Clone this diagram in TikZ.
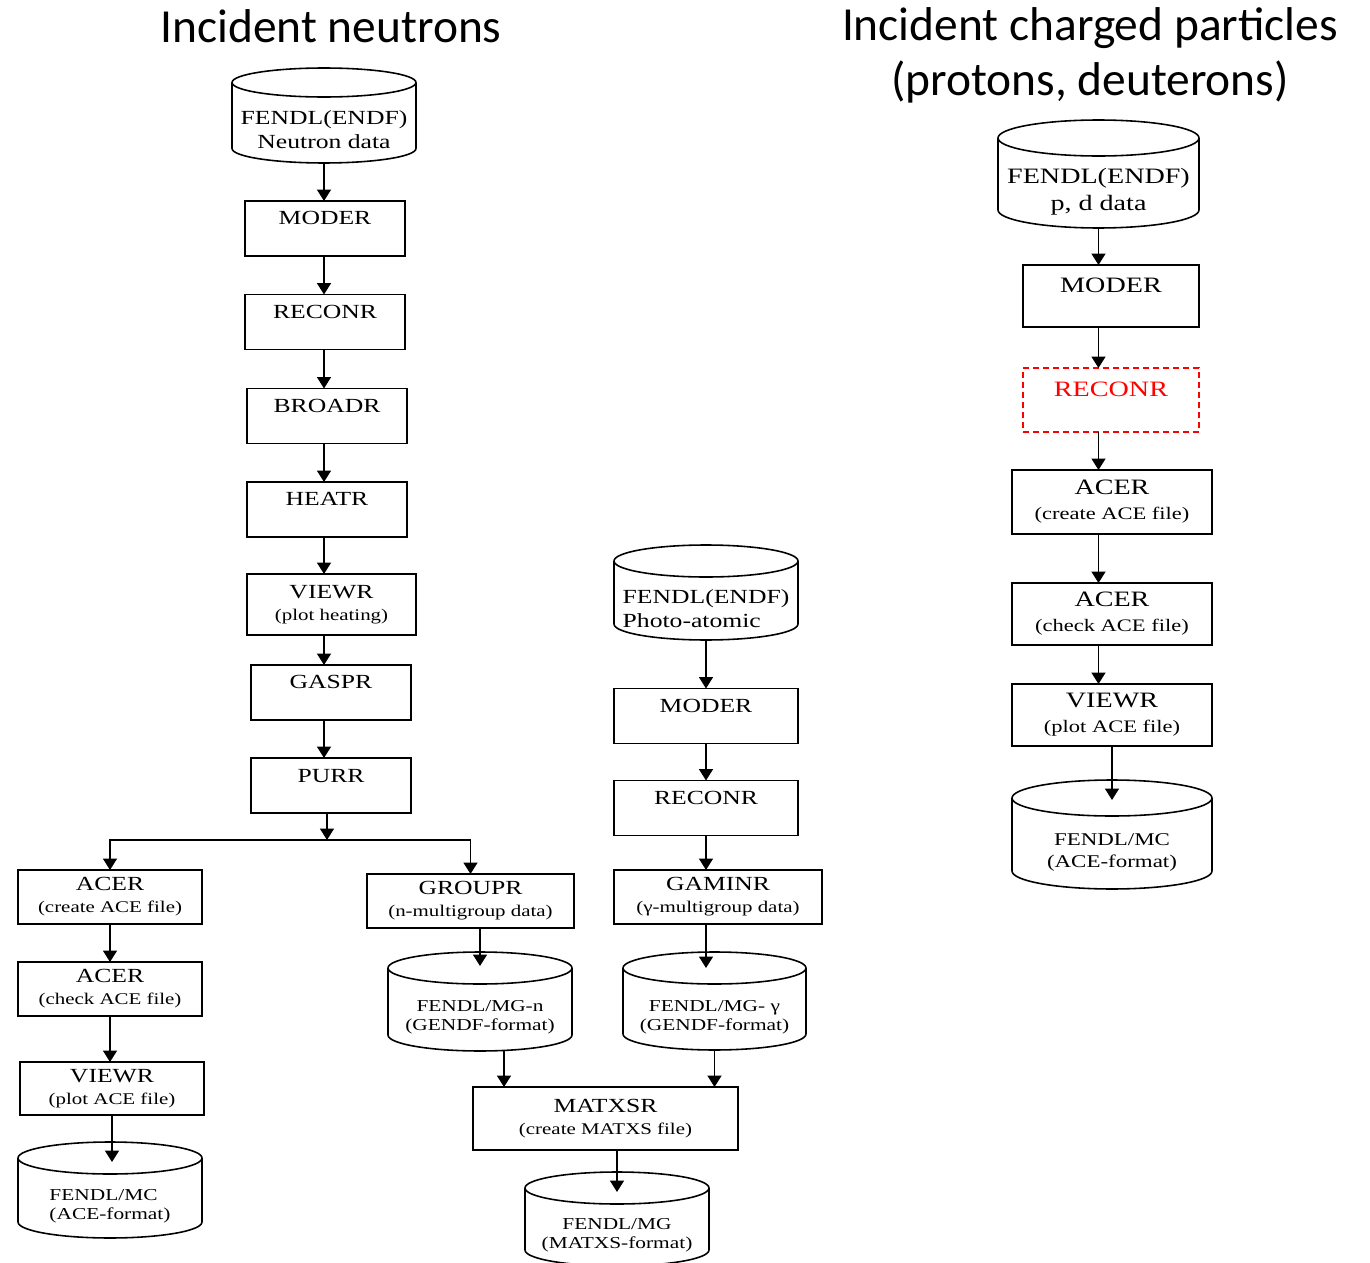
\documentclass[tikz,border=0pt]{standalone}
\usepackage{fontspec}
\setmainfont{Liberation Serif}[FakeStretch=1.28]
\newfontfamily\titlefont{Carlito}
\usepackage{tikz}
\usetikzlibrary{arrows.meta}
\usetikzlibrary{calc}

\newcommand{\titlesz}{\titlefont\fontsize{27}{31.3}\selectfont}
\newcommand{\mainsz}{\fontsize{11.4}{12.5}\selectfont}
\newcommand{\notesz}{\fontsize{9.3}{12.5}\selectfont}
\newcommand{\bigsz}{\fontsize{12.5}{14.2}\selectfont}
\newcommand{\bignotesz}{\fontsize{10}{14.2}\selectfont}
\newcommand{\drumsz}{\fontsize{11.4}{13.7}\selectfont}
\newcommand{\drumsmallsz}{\fontsize{9.5}{10.8}\selectfont}

% outline of a data drum round a named node
\newcommand{\drawdrum}[2]{%
  \draw[line width=0.9pt] let \p1=(#1.south west), \p2=(#1.south east), \n1={(\x2-\x1)/2} in
    ([yshift=#2]#1.north) ellipse [x radius=\n1*1pt, y radius=#2]
    ([yshift=#2]#1.north west) -- ([yshift=#2]#1.south west)
    arc [start angle=180, end angle=360, x radius=\n1*1pt, y radius=#2]
    -- ([yshift=#2]#1.north east);}

\tikzset{
  box/.style={draw, line width=0.9pt, inner sep=0pt, outer sep=0pt, align=center,
    font=\mainsz, minimum width=3.2cm, minimum height=1.08cm},
  onebox/.style={box, text height=0.48cm, text depth=0.62cm},
  bigbox/.style={box, font=\bigsz, minimum width=4cm, minimum height=1.24cm},
  onebig/.style={bigbox, minimum width=3.52cm, text height=0.56cm, text depth=0.68cm},
  drum/.style={inner sep=0pt, outer sep=0pt, align=center, minimum width=3.68cm},
  flow/.style={-{Triangle[length=2.3mm, width=2.8mm]}, line width=1pt},
  into/.style={shorten >=#1},
  heading/.style={font=\titlesz, align=center}
}

\begin{document}
\begin{tikzpicture}[x=0.02cm, y=-0.02cm]
\useasboundingbox (0,0) rectangle (1370,1263);

\node[heading] (ttln) at (331,26) {Incident neutrons};
\node[heading] (ttlp) at (1090,55) {Incident charged particles\\(protons, deuterons)};

% neutron chain
\node[drum, font=\drumsz, minimum height=1.32cm] (nsrc) at (324,130) {FENDL(ENDF)\\Neutron data};
\drawdrum{nsrc}{0.29cm}
\node[onebox] (nmod) at (325,228.5) {MODER};
\node[onebox] (nrec) at (325,322) {RECONR};
\node[onebox] (nbro) at (327,416) {BROADR};
\node[onebox] (nhea) at (327,509.5) {HEATR};
\node[box, minimum width=3.38cm, minimum height=1.22cm] (nvie) at (331.5,604.5) {VIEWR\\{\notesz (plot heating)}};
\node[onebox] (ngas) at (331,692.5) {GASPR};
\node[onebox] (npur) at (331,785.5) {PURR};
\coordinate (nsplit) at (327,840);

\draw[flow] (nsrc) -- (nsrc |- nmod.north);
\draw[flow] (nmod.south -| nsrc) -- (nsrc |- nrec.north);
\draw[flow] (nrec.south -| nsrc) -- (nsrc |- nbro.north);
\draw[flow] (nbro.south -| nsrc) -- (nsrc |- nhea.north);
\draw[flow] (nhea.south -| nsrc) -- (nsrc |- nvie.north);
\draw[flow] (nvie.south -| nsrc) -- (nsrc |- ngas.north);
\draw[flow] (ngas.south -| nsrc) -- (nsrc |- npur.north);
\draw[flow] (npur.south -| nsplit) -- (nsplit);

% ACE branch
\node[box, minimum width=3.68cm] (nace1) at (110,897) {ACER\\{\notesz (create ACE file)}};
\node[box, minimum width=3.68cm] (nace2) at (110,989) {ACER\\{\notesz (check ACE file)}};
\node[box, minimum width=3.68cm, minimum height=1.06cm] (nvie2) at (112,1088.5) {VIEWR\\{\notesz (plot ACE file)}};
\node[drum, align=left, font=\drumsmallsz, minimum height=1.28cm] (nmc1) at (110,1206) {FENDL/MC\\(ACE-format)};
\drawdrum{nmc1}{0.32cm}

\draw[flow] (nsplit) -| (nace1.north);
\draw[flow] (nace1) -- (nace1 |- nace2.north);
\draw[flow] (nace2) -- (nace2 |- nvie2.north);
\draw[flow, into=0.24cm] (nvie2) -- (nvie2 |- nmc1.north);

% multigroup branch
\node[box, minimum width=4.14cm] (ngrp) at (470.5,901) {GROUPR\\{\notesz (n-multigroup data)}};
\node[drum, font=\drumsmallsz, minimum height=1.34cm] (nmgn) at (480,1017.5) {FENDL/MG-n\\(GENDF-format)};
\drawdrum{nmgn}{0.32cm}
\node[box, minimum width=5.3cm, minimum height=1.26cm] (nmat) at (605.5,1118.5) {MATXSR\\{\notesz (create MATXS file)}};
\node[drum, font=\drumsmallsz, minimum height=1.24cm] (nmg) at (617,1235) {FENDL/MG\\(MATXS-format)};
\drawdrum{nmg}{0.32cm}

\draw[flow] (nsplit) -| (ngrp.north);
\draw[flow, into=0.36cm] (ngrp.south -| nmgn) -- (nmgn.north);
\coordinate (nmgnout) at ([xshift=0.48cm]nmgn.south);
\draw[flow] (nmgnout) -- (nmgnout |- nmat.north);
\draw[flow, into=0.24cm] (nmat.south -| nmg) -- (nmg.north);

% photo-atomic chain
\node[drum, align=left, font=\drumsz, minimum height=1.26cm] (npho) at (706,608.5) {FENDL(ENDF)\\Photo-atomic};
\drawdrum{npho}{0.32cm}
\node[onebox, minimum width=3.68cm] (nmod2) at (706,716) {MODER};
\node[onebox, minimum width=3.68cm] (nrec2) at (706,808) {RECONR};
\node[box, minimum width=4.16cm] (ngam) at (718,897) {GAMINR\\{\notesz (γ-multigroup data)}};
\node[drum, font=\drumsmallsz, minimum width=3.66cm, minimum height=1.32cm] (nmgg) at (714.5,1017) {FENDL/MG- γ\\(GENDF-format)};
\drawdrum{nmgg}{0.32cm}

\draw[flow] (npho) -- (npho |- nmod2.north);
\draw[flow] (nmod2) -- (nmod2 |- nrec2.north);
\draw[flow] (nrec2) -- (nrec2 |- ngam.north);
\draw[flow, into=0.32cm] (ngam.south -| nrec2) -- (nrec2 |- nmgg.north);
\draw[flow] (nmgg) -- (nmgg |- nmat.north);

% charged particle chain
\node[drum, font=\fontsize{12.5}{15.4}\selectfont, minimum width=4.02cm, minimum height=1.44cm] (psrc) at (1098.5,192) {FENDL(ENDF)\\p, d data};
\drawdrum{psrc}{0.36cm}
\node[onebig] (pmod) at (1111,296) {MODER};
\node[onebig, draw=red, text=red, dash pattern=on 1.2mm off 0.8mm, minimum height=1.28cm] (prec) at (1111,400) {RECONR};
\node[bigbox, minimum height=1.28cm] (pace1) at (1112,502) {ACER\\{\bignotesz (create ACE file)}};
\node[bigbox] (pace2) at (1112,614) {ACER\\{\bignotesz (check ACE file)}};
\node[bigbox] (pvie) at (1112,715) {VIEWR\\{\bignotesz (plot ACE file)}};
\node[drum, font=\fontsize{10.2}{12}\selectfont, minimum width=4cm, minimum height=1.46cm] (pmc) at (1112,852.5) {FENDL/MC\\(ACE-format)};
\drawdrum{pmc}{0.36cm}

\draw[flow] (psrc) -- (psrc |- pmod.north);
\draw[flow] (pmod.south -| psrc) -- (psrc |- prec.north);
\draw[flow] (prec.south -| psrc) -- (psrc |- pace1.north);
\draw[flow] (pace1.south -| psrc) -- (psrc |- pace2.north);
\draw[flow] (pace2.south -| psrc) -- (psrc |- pvie.north);
\draw[flow, into=0.32cm] (pvie) -- (pvie |- pmc.north);
\end{tikzpicture}
\end{document}
